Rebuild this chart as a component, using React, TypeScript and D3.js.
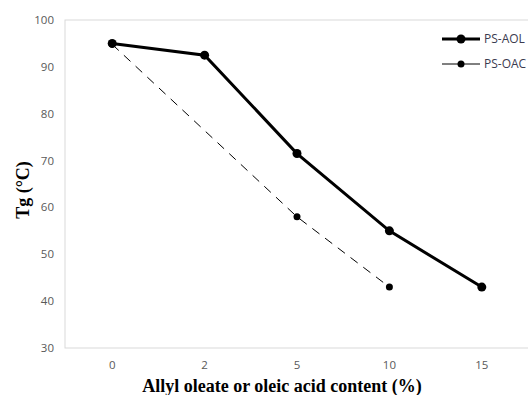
import React, { useEffect, useRef } from 'react';
import * as d3 from 'd3';

const categories = ['0', '2', '5', '10', '15'];
const yTicks = [30, 40, 50, 60, 70, 80, 90, 100];
const aolValues = [95, 92.5, 71.5, 55, 43];
const oacCats = ['0', '5', '10'];
const oacPoints = [94.8, 58, 43];

const App = () => {
  const ref = useRef<SVGSVGElement>(null);

  useEffect(() => {
    const width = 528;
    const height = 395;
    const plot = { left: 65, right: 530, top: 20, bottom: 348 };

    const svg = d3.select(ref.current);
    svg.selectAll('*').remove();
    svg.attr('width', width).attr('height', height);

    svg.append('rect').attr('width', width).attr('height', height).attr('fill', 'white');

    const x = d3.scalePoint<string>()
      .domain(categories)
      .range([plot.left + 1, 528])
      .padding(0.5);

    const y = d3.scaleLinear().domain([30, 100]).range([plot.bottom, plot.top]);

    // frame
    svg.append('rect')
      .attr('x', plot.left)
      .attr('y', plot.top)
      .attr('width', plot.right - plot.left)
      .attr('height', plot.bottom - plot.top)
      .attr('fill', 'none')
      .attr('stroke', '#d9d9d9')
      .attr('stroke-width', 1);

    // y tick labels
    svg.append('g')
      .selectAll('text')
      .data(yTicks)
      .enter()
      .append('text')
      .attr('x', 54)
      .attr('y', d => y(d) + 4)
      .attr('text-anchor', 'end')
      .style('font-family', 'Open Sans, Liberation Sans, sans-serif')
      .style('font-size', '11.5px')
      .attr('fill', '#595959')
      .text(d => d);

    // x tick labels
    svg.append('g')
      .selectAll('text')
      .data(categories)
      .enter()
      .append('text')
      .attr('x', d => x(d)!)
      .attr('y', 369)
      .attr('text-anchor', 'middle')
      .style('font-family', 'Open Sans, Liberation Sans, sans-serif')
      .style('font-size', '11.5px')
      .attr('fill', '#595959')
      .text(d => d);

    // PS-OAC dashed
    const oacData = oacCats.map((c, i) => ({ c, v: oacPoints[i] }));
    const line = d3.line<{ c: string; v: number }>().x(d => x(d.c)!).y(d => y(d.v));
    svg.append('path')
      .datum(oacData)
      .attr('d', line)
      .attr('fill', 'none')
      .attr('stroke', 'black')
      .attr('stroke-width', 1)
      .attr('stroke-dasharray', '9,7');
    svg.selectAll('.oac')
      .data(oacData)
      .enter()
      .append('circle')
      .attr('class', 'oac')
      .attr('cx', d => x(d.c)!)
      .attr('cy', d => y(d.v))
      .attr('r', 3.5)
      .attr('fill', 'black');

    // PS-AOL solid
    const aolData = categories.map((c, i) => ({ c, v: aolValues[i] }));
    svg.append('path')
      .datum(aolData)
      .attr('d', line)
      .attr('fill', 'none')
      .attr('stroke', 'black')
      .attr('stroke-width', 3);
    svg.selectAll('.aol')
      .data(aolData)
      .enter()
      .append('circle')
      .attr('class', 'aol')
      .attr('cx', d => x(d.c)!)
      .attr('cy', d => y(d.v))
      .attr('r', 4.5)
      .attr('fill', 'black');

    // legend
    const legend = [
      { name: 'PS-AOL', y: 39, w: 3, r: 4.5 },
      { name: 'PS-OAC', y: 64, w: 1, r: 3.5 },
    ];
    legend.forEach(l => {
      svg.append('line')
        .attr('x1', 442).attr('x2', 480)
        .attr('y1', l.y).attr('y2', l.y)
        .attr('stroke', 'black')
        .attr('stroke-width', l.w);
      svg.append('circle')
        .attr('cx', 461).attr('cy', l.y).attr('r', l.r).attr('fill', 'black');
      svg.append('text')
        .attr('x', 484)
        .attr('y', l.y + 4)
        .style('font-family', 'Open Sans, Liberation Sans, sans-serif')
        .style('font-size', '12px')
        .attr('fill', '#3b3b4f')
        .text(l.name);
    });

    // axis titles
    svg.append('text')
      .attr('x', 282)
      .attr('y', 392)
      .attr('text-anchor', 'middle')
      .style('font-family', 'Liberation Serif, Times New Roman, serif')
      .style('font-weight', 'bold')
      .style('font-size', '18px')
      .attr('fill', 'black')
      .text('Allyl oleate or oleic acid content (%)');

    svg.append('text')
      .attr('transform', 'translate(29,190) rotate(-90)')
      .attr('text-anchor', 'middle')
      .style('font-family', 'Liberation Serif, Times New Roman, serif')
      .style('font-weight', 'bold')
      .style('font-size', '18px')
      .attr('fill', 'black')
      .text('Tg (°C)');
  }, []);

  return (
    <div style={{ position: 'absolute', left: 0, top: 0 }}>
      <svg ref={ref}></svg>
    </div>
  );
};

export default App;
